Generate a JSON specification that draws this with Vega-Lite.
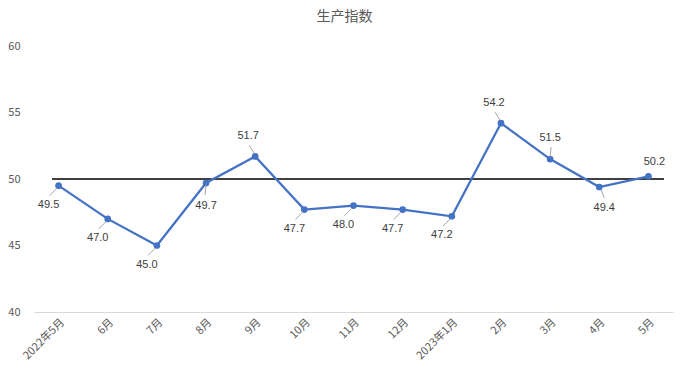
{
  "$schema": "https://vega.github.io/schema/vega-lite/v6.json",
  "width": 639,
  "height": 266,
  "autosize": {"type": "none"},
  "padding": {"left": 34, "top": 46, "right": 15, "bottom": 66},
  "background": "white",
  "config": {"view": {"stroke": null}, "font": "Noto Sans CJK SC"},
  "title": {"text": "生产指数", "fontSize": 14, "font": "Noto Sans CJK SC", "fontWeight": "normal", "color": "#595959", "anchor": "middle", "offset": 16, "dx": -9},
  "data": {"values": [
    {"month": "2022年5月", "value": 49.5},
    {"month": "6月", "value": 47.0},
    {"month": "7月", "value": 45.0},
    {"month": "8月", "value": 49.7},
    {"month": "9月", "value": 51.7},
    {"month": "10月", "value": 47.7},
    {"month": "11月", "value": 48.0},
    {"month": "12月", "value": 47.7},
    {"month": "2023年1月", "value": 47.2},
    {"month": "2月", "value": 54.2},
    {"month": "3月", "value": 51.5},
    {"month": "4月", "value": 49.4},
    {"month": "5月", "value": 50.2}
  ]},
  "encoding": {
    "x": {"field": "month", "type": "nominal", "sort": null,
      "scale": {"domain": ["2022年5月", "6月", "7月", "8月", "9月", "10月", "11月", "12月", "2023年1月", "2月", "3月", "4月", "5月"]},
      "axis": {"title": null, "labelAngle": -45, "labelAlign": "right", "labelBaseline": "top", "labelFontSize": 11, "labelColor": "#595959", "ticks": false, "domainColor": "#d9d9d9", "grid": false, "labelPadding": 4}},
    "y": {"field": "value", "type": "quantitative",
      "scale": {"domain": [40, 60], "nice": false, "zero": false},
      "axis": {"title": null, "values": [40, 45, 50, 55, 60], "grid": false, "domain": false, "ticks": false, "labelColor": "#595959", "labelFontSize": 11, "labelPadding": 14}}
  },
  "layer": [
    {
      "mark": {"type": "rule", "color": "#404040", "strokeWidth": 1.5, "xOffset": -6, "x2Offset": 15},
      "encoding": {
        "x": {"datum": "2022年5月", "type": "nominal"},
        "x2": {"datum": "5月"},
        "y": {"datum": 50, "type": "quantitative"}
      }
    },
    {
      "mark": {"type": "line", "color": "#4472C4", "strokeWidth": 2.25, "point": {"filled": true, "size": 45, "color": "#4472C4"}}
    },
    {
      "transform": [{"filter": {"field": "month", "oneOf": ["2022年5月", "6月", "7月", "10月", "11月", "12月", "2023年1月"]}}],
      "layer": [
        {"mark": {"type": "rule", "color": "#a6a6a6", "strokeWidth": 1, "xOffset": -2, "yOffset": 3, "x2Offset": -9, "y2Offset": 10},
         "encoding": {"x2": {"field": "month"}, "y2": {"field": "value"}}},
        {"mark": {"type": "text", "dx": -10, "dy": 19, "fontSize": 11, "color": "#404040", "font": "Liberation Sans"},
         "encoding": {"text": {"field": "value", "format": ".1f"}}}
      ]
    },
    {
      "transform": [{"filter": {"field": "month", "oneOf": ["8月"]}}],
      "layer": [
        {"mark": {"type": "rule", "color": "#a6a6a6", "strokeWidth": 1, "xOffset": 0, "yOffset": 2, "x2Offset": -1, "y2Offset": 12},
         "encoding": {"x2": {"field": "month"}, "y2": {"field": "value"}}},
        {"mark": {"type": "text", "dx": 0, "dy": 23, "fontSize": 11, "color": "#404040", "font": "Liberation Sans"},
         "encoding": {"text": {"field": "value", "format": ".1f"}}}
      ]
    },
    {
      "transform": [{"filter": {"field": "month", "oneOf": ["4月"]}}],
      "layer": [
        {"mark": {"type": "rule", "color": "#a6a6a6", "strokeWidth": 1, "xOffset": 2, "yOffset": 3, "x2Offset": 5, "y2Offset": 11},
         "encoding": {"x2": {"field": "month"}, "y2": {"field": "value"}}},
        {"mark": {"type": "text", "dx": 5, "dy": 21, "fontSize": 11, "color": "#404040", "font": "Liberation Sans"},
         "encoding": {"text": {"field": "value", "format": ".1f"}}}
      ]
    },
    {
      "transform": [{"filter": {"field": "month", "oneOf": ["9月", "2月"]}}],
      "layer": [
        {"mark": {"type": "rule", "color": "#a6a6a6", "strokeWidth": 1, "xOffset": -1, "yOffset": -3, "x2Offset": -6, "y2Offset": -11},
         "encoding": {"x2": {"field": "month"}, "y2": {"field": "value"}}},
        {"mark": {"type": "text", "dx": -7, "dy": -20, "fontSize": 11, "color": "#404040", "font": "Liberation Sans"},
         "encoding": {"text": {"field": "value", "format": ".1f"}}}
      ]
    },
    {
      "transform": [{"filter": {"field": "month", "oneOf": ["3月"]}}],
      "layer": [
        {"mark": {"type": "rule", "color": "#a6a6a6", "strokeWidth": 1, "xOffset": 0, "yOffset": -2, "x2Offset": 1, "y2Offset": -12},
         "encoding": {"x2": {"field": "month"}, "y2": {"field": "value"}}},
        {"mark": {"type": "text", "dx": 0, "dy": -21, "fontSize": 11, "color": "#404040", "font": "Liberation Sans"},
         "encoding": {"text": {"field": "value", "format": ".1f"}}}
      ]
    },
    {
      "transform": [{"filter": {"field": "month", "oneOf": ["5月"]}}],
      "mark": {"type": "text", "dx": 6, "dy": -14, "fontSize": 11, "color": "#404040", "font": "Liberation Sans"},
      "encoding": {"text": {"field": "value", "format": ".1f"}}
    }
  ]
}
